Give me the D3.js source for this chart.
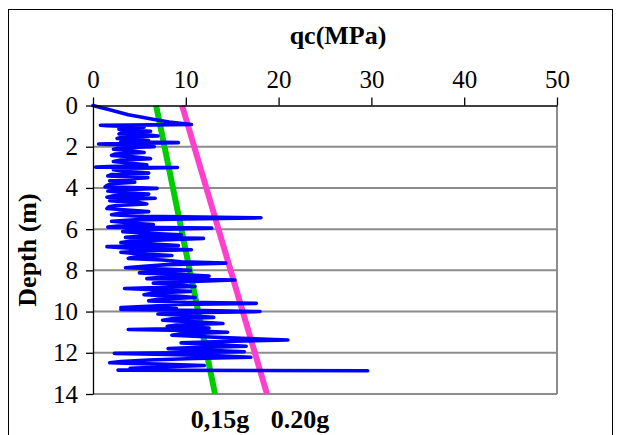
<!DOCTYPE html>
<html lang="en">
  <head>
    <meta charset="utf-8">
    <title>qc profile</title>
    <script src="https://cdn.jsdelivr.net/npm/d3@7"></script>
    <style>
      body { margin: 0; background: #fff; }
      svg text { font-family: "Liberation Serif", "Times New Roman", "DejaVu Serif", serif !important; }
    </style>
  </head>
  <body>
    <script>

      // tick values
      var xTicks = [0, 10, 20, 30, 40, 50];
      var yTicks = [0, 2, 4, 6, 8, 10, 12, 14];

      // cone resistance profile: depth (m) and qc (MPa)
      var qcDepth = [0.00, 0.10, 0.20, 0.30, 0.45, 0.55, 0.68, 0.80, 0.92, 0.94, 0.95, 0.96, 0.98,
        1.00, 1.05, 1.10, 1.15, 1.20, 1.25, 1.30, 1.38, 1.42, 1.48, 1.52, 1.60, 1.65, 1.70, 1.75,
        1.80, 1.84, 1.87, 1.90, 1.95, 2.00, 2.05, 2.12, 2.20, 2.28, 2.35, 2.42, 2.50, 2.58, 2.65,
        2.72, 2.80, 2.88, 2.95, 2.99, 3.01, 3.05, 3.12, 3.20, 3.28, 3.35, 3.42, 3.50, 3.58, 3.65,
        3.72, 3.80, 3.88, 3.95, 4.02, 4.08, 4.15, 4.22, 4.30, 4.38, 4.45, 4.50, 4.56, 4.62, 4.70,
        4.78, 4.85, 4.92, 5.00, 5.08, 5.15, 5.22, 5.30, 5.38, 5.45, 5.50, 5.55, 5.62, 5.70, 5.78,
        5.85, 5.90, 5.95, 6.00, 6.05, 6.12, 6.20, 6.28, 6.35, 6.40, 6.45, 6.52, 6.58, 6.65, 6.72,
        6.80, 6.85, 6.92, 7.00, 7.05, 7.12, 7.20, 7.28, 7.35, 7.42, 7.50, 7.58, 7.65, 7.72, 7.80,
        7.87, 7.92, 8.00, 8.06, 8.12, 8.20, 8.28, 8.35, 8.40, 8.47, 8.55, 8.62, 8.70, 8.78, 8.85,
        8.88, 8.95, 9.02, 9.10, 9.18, 9.25, 9.32, 9.40, 9.48, 9.55, 9.60, 9.66, 9.73, 9.80, 9.85,
        9.90, 9.95, 10.00, 10.05, 10.12, 10.20, 10.28, 10.35, 10.42, 10.50, 10.58, 10.65, 10.72,
        10.80, 10.87, 10.92, 11.00, 11.08, 11.15, 11.22, 11.30, 11.38, 11.45, 11.52, 11.60, 11.68,
        11.75, 11.80, 11.88, 11.95, 12.00, 12.03, 12.08, 12.15, 12.22, 12.28, 12.35, 12.42, 12.48,
        12.55, 12.62, 12.68, 12.75, 12.80, 12.84, 12.87];
      var qcValue = [0.0, 0.8, 1.7, 2.6, 3.8, 5.0, 6.6, 8.2, 10.6, 6.5, 4.0, 0.8, 1.5,
        3.0, 5.5, 3.2, 2.8, 4.5, 6.2, 3.1, 2.8, 5.8, 7.0, 3.3, 2.6, 4.8, 6.0, 3.0,
        9.2, 4.0, 0.6, 2.8, 5.0, 6.6, 3.2, 2.2, 4.2, 5.5, 2.4, 2.0, 4.6, 6.2, 3.0,
        2.2, 4.0, 5.8, 2.5, 0.3, 9.1, 4.5, 2.2, 3.5, 6.0, 2.0, 1.6, 5.9, 3.2, 1.8,
        4.5, 2.0, 1.5, 1.3, 6.9, 3.5, 1.6, 3.0, 6.0, 2.2, 1.5, 6.7, 3.5, 1.8, 4.8,
        5.8, 2.5, 1.7, 1.5, 4.0, 6.0, 3.0, 2.0, 5.5, 18.1, 10.0, 4.5, 2.0, 4.0, 6.5,
        2.7, 1.6, 12.8, 8.0, 4.0, 3.2, 6.0, 9.5, 5.0, 3.5, 11.9, 7.5, 4.2, 3.0, 6.5,
        9.2, 1.5, 4.0, 10.6, 6.0, 3.0, 5.0, 8.5, 4.5, 3.8, 7.5, 9.5, 14.3, 8.0, 5.5,
        3.5, 7.0, 10.5, 6.0, 5.0, 9.5, 12.5, 7.0, 5.8, 15.3, 10.0, 6.5, 9.0, 11.0, 6.0,
        3.4, 7.0, 10.5, 6.5, 5.5, 9.0, 11.0, 7.0, 6.0, 10.0, 17.6, 9.0, 6.5, 3.0, 9.0,
        3.0, 12.0, 18.0, 10.0, 7.0, 10.5, 13.0, 8.5, 7.5, 11.0, 14.0, 9.0, 8.0,
        12.5, 3.8, 10.0, 14.5, 9.5, 8.5, 12.0, 16.0, 21.0, 14.0, 9.5, 13.0, 16.5,
        11.0, 8.1, 12.5, 16.3, 9.0, 2.3, 8.0, 13.5, 17.0, 11.0, 6.0, 3.0, 1.8,
        7.0, 12.0, 8.0, 4.0, 6.8, 2.7, 29.6];

      // the two straight reference lines
      var refDepth = [0, 14];
      var ref015 = [6.8, 13.15];
      var ref020 = [9.6, 18.75];

      var svg = d3.select("body").append("svg")
                  .attr("width", 617)
                  .attr("height", 435);

      var x = d3.scaleLinear().domain([0, 50]).range([93, 557]);
      var y = d3.scaleLinear().domain([0, 14]).range([105.5, 394]);

      var serif = "'Liberation Serif', 'Times New Roman', 'DejaVu Serif', serif";

      // outer frame
      svg.append("rect")
         .attr("x", 8.5).attr("y", 9.5)
         .attr("width", 604).attr("height", 440)
         .attr("fill", "none").attr("stroke", "#000").attr("stroke-width", 1);

      // gridlines
      svg.selectAll(".grid")
         .data(yTicks.slice(1))
         .enter().append("line")
         .attr("x1", x(0)).attr("x2", x(50))
         .attr("y1", function(d) { return y(d); })
         .attr("y2", function(d) { return y(d); })
         .attr("stroke", "#8c8c8c").attr("stroke-width", 2);

      svg.append("line")
         .attr("x1", x(50)).attr("x2", x(50))
         .attr("y1", y(0)).attr("y2", y(14))
         .attr("stroke", "#8c8c8c").attr("stroke-width", 2);

      // reference lines
      var line = d3.line()
                   .x(function(d) { return x(d[0]); })
                   .y(function(d) { return y(d[1]); });

      svg.append("path")
         .attr("d", line(d3.zip(ref015, refDepth)))
         .attr("fill", "none").attr("stroke", "#00cc00").attr("stroke-width", 6);

      svg.append("path")
         .attr("d", line(d3.zip(ref020, refDepth)))
         .attr("fill", "none").attr("stroke", "#ff40cc").attr("stroke-width", 6);

      // qc profile
      svg.append("path")
         .attr("d", line(d3.zip(qcValue, qcDepth)))
         .attr("fill", "none").attr("stroke", "#0000ff")
         .attr("stroke-width", 3.6).attr("stroke-linejoin", "round").attr("stroke-linecap", "round");

      // axes
      svg.append("g")
         .attr("transform", "translate(0," + y(0) + ")")
         .call(d3.axisTop(x).tickValues(xTicks).tickSize(8).tickSizeOuter(0).tickPadding(10));

      svg.append("g")
         .attr("transform", "translate(" + x(0) + ",0)")
         .call(d3.axisLeft(y).tickValues(yTicks).tickSize(7).tickSizeOuter(0).tickPadding(8));

      svg.selectAll("g").attr("font-family", serif);
      svg.selectAll(".tick text")
         .style("font-family", serif)
         .attr("font-size", 25)
         .attr("fill", "#000");
      svg.selectAll(".domain, .tick line").attr("stroke", "#000").attr("stroke-width", 1.3);

      // titles
      function label(tx, ty, str, rot) {
        svg.append("text")
           .attr("transform", "translate(" + tx + "," + ty + ")" + (rot ? " rotate(-90)" : ""))
           .attr("text-anchor", "middle")
           .style("font-family", serif)
           .attr("font-size", 26).attr("font-weight", "bold")
           .text(str);
      }
      label(338, 44, "qc(MPa)");
      label(36, 250, "Depth (m)", true);
      label(220, 428, "0,15g");
      label(300, 428, "0.20g");

    </script>
  </body>
</html>
